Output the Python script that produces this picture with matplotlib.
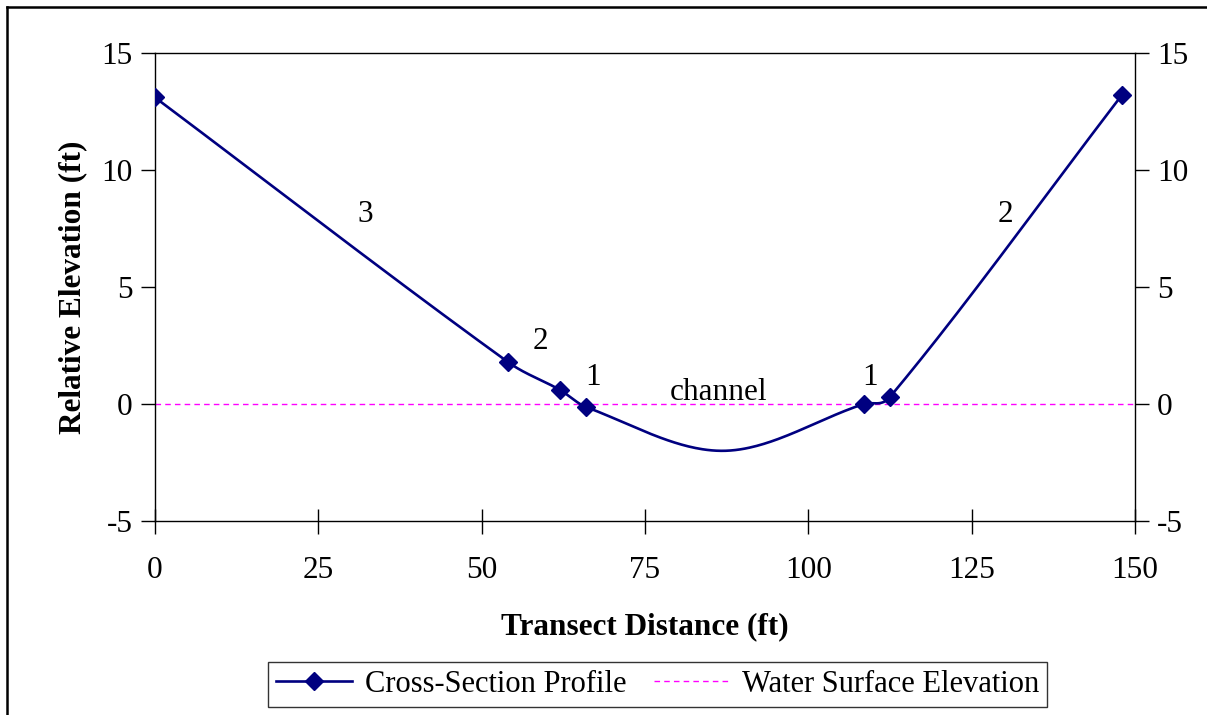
import numpy as np
import matplotlib
matplotlib.use("Agg")
import matplotlib.pyplot as plt
from matplotlib.lines import Line2D

plt.rcParams["font.family"] = ["Liberation Serif", "DejaVu Serif"]
plt.rcParams["axes.unicode_minus"] = False

# data
distance = [0, 54, 62, 66, 87, 108.5, 112.5, 148]
elevation = [13.1, 1.8, 0.6, -0.13, -2.0, 0.0, 0.3, 13.2]
marked = [0, 1, 2, 3, 5, 6, 7]  # channel bottom has no marker

water_x = [0, 150]
water_y = [0, 0]

label_text = ["3", "2", "1", "channel", "1", "2"]
label_x = [32.2, 59.0, 67.0, 86.2, 109.5, 130.2]
label_y = [8.1, 2.65, 1.15, 0.5, 1.15, 8.1]

x_ticks = [0, 25, 50, 75, 100, 125, 150]
y_ticks = [-5, 0, 5, 10, 15]


def smooth(xs, ys, n=60):
    # cubic hermite through the points, tangents from neighbours
    x = np.asarray(xs, float)
    y = np.asarray(ys, float)
    m = np.zeros_like(y)
    m[0] = (y[1] - y[0]) / (x[1] - x[0])
    m[-1] = (y[-1] - y[-2]) / (x[-1] - x[-2])
    m[1:-1] = (y[2:] - y[:-2]) / (x[2:] - x[:-2])
    px, py = [], []
    for i in range(len(x) - 1):
        h = x[i + 1] - x[i]
        t = np.linspace(0, 1, n)
        if i > 0:
            t = t[1:]
        h00 = 2 * t ** 3 - 3 * t ** 2 + 1
        h10 = t ** 3 - 2 * t ** 2 + t
        h01 = -2 * t ** 3 + 3 * t ** 2
        h11 = t ** 3 - t ** 2
        px.append(x[i] + t * h)
        py.append(h00 * y[i] + h10 * h * m[i] + h01 * y[i + 1] + h11 * h * m[i + 1])
    return np.concatenate(px), np.concatenate(py)


fig = plt.figure(figsize=(12.07, 7.15), dpi=100)
ax = fig.add_axes([0.1284, 0.2713, 0.9403 - 0.1284, 0.9259 - 0.2713])

navy = "#000080"
fs = 22.5

sx, sy = smooth(distance, elevation)
ax.plot(sx, sy, color=navy, lw=1.9, zorder=3)
ax.plot([distance[i] for i in marked], [elevation[i] for i in marked],
        ls="none", marker="D", ms=9, color=navy, zorder=4)
ax.plot(water_x, water_y, color="#ff00ff", lw=1.0, ls=(0, (4, 3)), zorder=2)

for t, x, y in zip(label_text, label_x, label_y):
    ax.text(x, y, t, fontsize=fs, ha="center", va="center")

ax.set_xlim(0, 150)
ax.set_ylim(-5, 15)
ax.set_xticks(x_ticks)
ax.set_yticks(y_ticks)
ax.tick_params(axis="y", which="both", direction="out", length=10, width=1,
               right=True, labelright=True, labelsize=fs, pad=6)
ax.tick_params(axis="x", direction="inout", length=18, width=1,
               labelsize=fs, pad=16)
for s in ax.spines.values():
    s.set_linewidth(1.0)

ax.set_xlabel("Transect Distance (ft)", fontsize=fs, fontweight="bold", labelpad=20)
ax.set_ylabel("Relative Elevation (ft)", fontsize=fs, fontweight="bold", labelpad=10)

handles = [
    Line2D([], [], color=navy, lw=1.9, marker="D", ms=9),
    Line2D([], [], color="#ff00ff", lw=1.0, ls=(0, (4, 3))),
]
leg = fig.legend(handles, ["Cross-Section Profile", "Water Surface Elevation"],
                 loc="center", bbox_to_anchor=(0.545, 0.0425), ncol=2, fontsize=22,
                 frameon=True, fancybox=False, edgecolor="black",
                 handlelength=2.5, handletextpad=0.4, columnspacing=0.9,
                 borderpad=0.25, borderaxespad=0)
leg.get_frame().set_linewidth(1.0)

# outer chart border (top and left visible)
fig.add_artist(Line2D([7 / 1207, 1.0], [1 - 7 / 715, 1 - 7 / 715],
                      color="black", lw=1.8, transform=fig.transFigure))
fig.add_artist(Line2D([7 / 1207, 7 / 1207], [0, 1 - 7 / 715],
                      color="black", lw=1.8, transform=fig.transFigure))

fig.savefig("out.png", dpi=100)
